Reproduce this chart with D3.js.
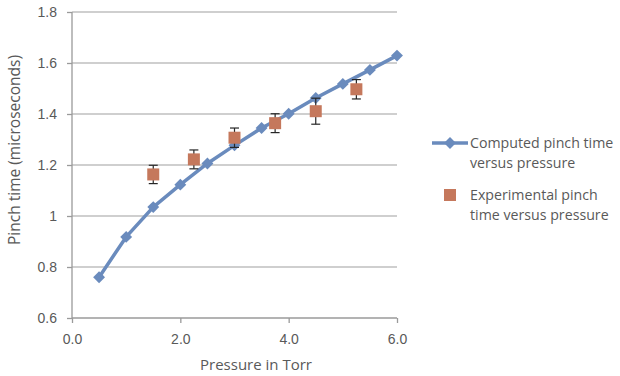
<!DOCTYPE html>
<html>
<head>
	<meta charset="utf-8">
	<title>Pinch time versus pressure</title>
	<style>
		body { margin: 0; background: #fff; }
		svg { display: block; font-family: "Open Sans", sans-serif; }
		.tick text { fill: #595959; font-size: 14px; }
	</style>
	<script src="https://cdn.jsdelivr.net/npm/d3@7/dist/d3.min.js"></script>
</head>
<body>
	<svg width="620" height="376"></svg>
	<script>

		// computed series
		var computedPressure = [0.5, 1.0, 1.5, 2.0, 2.5, 3.0, 3.5, 4.0, 4.5, 5.0, 5.5, 6.0];
		var computedTime = [0.760, 0.918, 1.035, 1.123, 1.206, 1.277, 1.345, 1.401, 1.463, 1.518, 1.573, 1.629];

		// experimental series, with error bars
		var expPressure = [1.5, 2.25, 3.0, 3.75, 4.5, 5.25];
		var expTime = [1.163, 1.222, 1.307, 1.364, 1.411, 1.497];
		var expError = [0.036, 0.037, 0.038, 0.037, 0.051, 0.038];

		var xTicks = [0, 2, 4, 6];
		var yTicks = [0.6, 0.8, 1.0, 1.2, 1.4, 1.6, 1.8];

		var legendLabels = [
			["Computed pinch time", "versus pressure"],
			["Experimental pinch", "time versus pressure"]
		];

		var lineColor = "#6a8bbd",
		    squareColor = "#c5785c",
		    gridColor = "#bfbfbf",
		    axisColor = "#9a9a9a",
		    textColor = "#595959";

		var svg = d3.select("svg"),
		    margin = {top: 12, right: 223, bottom: 58, left: 72},
		    width = +svg.attr("width") - margin.left - margin.right,
		    height = +svg.attr("height") - margin.top - margin.bottom,
		    g = svg.append("g").attr("transform", "translate(" + margin.left + "," + margin.top + ")");

		var x = d3.scaleLinear().domain([0, 6]).range([0, width]);
		var y = d3.scaleLinear().domain([0.6, 1.8]).range([height, 0]);

		// gridlines
		g.append("g")
		  .selectAll("line")
		  .data(yTicks.slice(1))
		  .enter().append("line")
		    .attr("x1", 0)
		    .attr("x2", width)
		    .attr("y1", function(d) { return y(d); })
		    .attr("y2", function(d) { return y(d); })
		    .attr("stroke", gridColor)
		    .attr("stroke-width", 1.3);

		// axes
		var yAxis = g.append("g")
		    .call(d3.axisLeft(y).tickValues(yTicks).tickSize(5).tickPadding(10)
		      .tickFormat(function(d) { return String(+d.toFixed(1)); }));

		var xAxis = g.append("g")
		    .attr("transform", "translate(0," + height + ")")
		    .call(d3.axisBottom(x).tickValues(xTicks).tickSize(5).tickPadding(11)
		      .tickFormat(d3.format(".1f")));

		[xAxis, yAxis].forEach(function(a) {
			a.select(".domain").attr("stroke", axisColor).attr("stroke-width", 1.3);
			a.selectAll(".tick line").attr("stroke", axisColor).attr("stroke-width", 1.3);
		});
		yAxis.select(".domain").attr("d", "M0," + height + "V0");
		xAxis.select(".domain").attr("d", "M0,0H" + width);

		// computed line
		var computed = computedPressure.map(function(p, i) { return {p: p, t: computedTime[i]}; });

		g.append("path")
		    .datum(computed)
		    .attr("fill", "none")
		    .attr("stroke", lineColor)
		    .attr("stroke-width", 3.5)
		    .attr("stroke-linejoin", "round")
		    .attr("d", d3.line()
		      .x(function(d) { return x(d.p); })
		      .y(function(d) { return y(d.t); }));

		var diamond = d3.symbol().type(d3.symbolDiamond2).size(90);

		g.append("g")
		  .selectAll("path")
		  .data(computed)
		  .enter().append("path")
		    .attr("transform", function(d) { return "translate(" + x(d.p) + "," + y(d.t) + ")"; })
		    .attr("d", diamond)
		    .attr("fill", lineColor);

		// experimental points
		var experimental = expPressure.map(function(p, i) { return {p: p, t: expTime[i], e: expError[i]}; });

		var bars = g.append("g")
		  .selectAll("g")
		  .data(experimental)
		  .enter().append("g")
		    .attr("stroke", "#262626")
		    .attr("stroke-width", 1.2);

		bars.append("line")
		    .attr("x1", function(d) { return x(d.p); })
		    .attr("x2", function(d) { return x(d.p); })
		    .attr("y1", function(d) { return y(d.t - d.e); })
		    .attr("y2", function(d) { return y(d.t + d.e); });

		bars.append("line")
		    .attr("x1", function(d) { return x(d.p) - 4.5; })
		    .attr("x2", function(d) { return x(d.p) + 4.5; })
		    .attr("y1", function(d) { return y(d.t + d.e); })
		    .attr("y2", function(d) { return y(d.t + d.e); });

		bars.append("line")
		    .attr("x1", function(d) { return x(d.p) - 4.5; })
		    .attr("x2", function(d) { return x(d.p) + 4.5; })
		    .attr("y1", function(d) { return y(d.t - d.e); })
		    .attr("y2", function(d) { return y(d.t - d.e); });

		g.append("g")
		  .selectAll("rect")
		  .data(experimental)
		  .enter().append("rect")
		    .attr("x", function(d) { return x(d.p) - 6; })
		    .attr("y", function(d) { return y(d.t) - 6; })
		    .attr("width", 12)
		    .attr("height", 12)
		    .attr("fill", squareColor);

		// axis titles
		svg.append("text")
		    .attr("x", 256)
		    .attr("y", 365)
		    .attr("dy", "0.35em")
		    .attr("text-anchor", "middle")
		    .attr("fill", textColor)
		    .attr("font-size", 15)
		    .text("Pressure in Torr");

		svg.append("text")
		    .attr("transform", "translate(15,150) rotate(-90)")
		    .attr("dy", "0.35em")
		    .attr("text-anchor", "middle")
		    .attr("fill", textColor)
		    .attr("font-size", 15.5)
		    .text("Pinch time (microseconds)");

		// legend
		var legend = svg.append("g")
		    .attr("fill", textColor)
		    .attr("font-size", 14.2);

		legend.append("line")
		    .attr("x1", 432).attr("x2", 468)
		    .attr("y1", 143).attr("y2", 143)
		    .attr("stroke", lineColor)
		    .attr("stroke-width", 3.5);

		legend.append("path")
		    .attr("transform", "translate(450,143)")
		    .attr("d", diamond)
		    .attr("fill", lineColor);

		legend.append("rect")
		    .attr("x", 444).attr("y", 189)
		    .attr("width", 12).attr("height", 12)
		    .attr("fill", squareColor);

		var legendY = [143, 195];
		legendLabels.forEach(function(lines, i) {
			legend.append("g")
			  .selectAll("text")
			  .data(lines)
			  .enter().append("text")
			    .attr("x", 470)
			    .attr("y", function(d, j) { return legendY[i] + j * 20; })
			    .attr("dy", "0.35em")
			    .text(function(d) { return d; });
		});

	</script>
</body>
</html>
